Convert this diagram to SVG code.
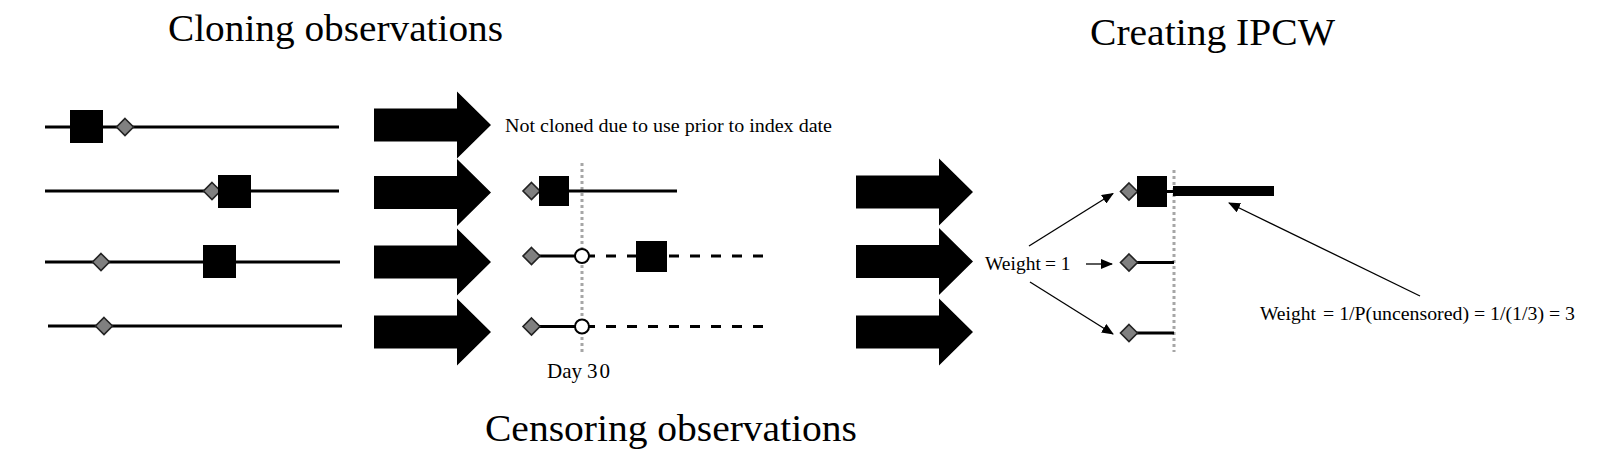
<svg xmlns="http://www.w3.org/2000/svg" width="1600" height="474" viewBox="0 0 1600 474">
<style>
.title{font-family:"Liberation Serif","Times New Roman",serif;font-size:38px;fill:#000}
.lbl{font-family:"Liberation Serif","Times New Roman",serif;font-size:19.5px;fill:#000}
.tl{stroke:#000;stroke-width:3;fill:none}
.dash{stroke:#000;stroke-width:3;fill:none;stroke-dasharray:10 11}
.dot{stroke:#a6a6a6;stroke-width:3;fill:none;stroke-dasharray:3 3}
.sq{fill:#000}
.dia{fill:#808080;stroke:#222;stroke-width:1.6}
.circ{fill:#fff;stroke:#000;stroke-width:2}
.big{fill:#000}
.conn{stroke:#000;stroke-width:1.3;fill:none}
</style>
<defs>
<path id="bigarrow" d="M0,-16.5 H83 V-33.5 L117,0 L83,33.5 V16.5 H0 Z"/>
<path id="diam" d="M0,-8.5 L8.5,0 L0,8.5 L-8.5,0 Z"/>
<marker id="ah" markerUnits="userSpaceOnUse" markerWidth="12" markerHeight="10" refX="11" refY="5" orient="auto">
<path d="M0,0 L12,5 L0,10 Z" fill="#000"/>
</marker>
</defs>
<rect width="1600" height="474" fill="#fff"/>

<g id="titles">
<text class="title" x="168" y="41" textLength="335" lengthAdjust="spacingAndGlyphs">Cloning observations</text>
<text class="title" x="1090" y="45" textLength="245" lengthAdjust="spacingAndGlyphs">Creating IPCW</text>
<text class="title" x="485" y="441" textLength="372" lengthAdjust="spacingAndGlyphs">Censoring observations</text>
</g>

<g id="cloning">
<g id="clone-row1">
<line class="tl" x1="45" y1="127" x2="339" y2="127"/>
<rect class="sq" x="70" y="110" width="33" height="33"/>
<use href="#diam" class="dia" x="125" y="127"/>
</g>
<g id="clone-row2">
<line class="tl" x1="45" y1="191" x2="339" y2="191"/>
<use href="#diam" class="dia" x="212" y="191"/>
<rect class="sq" x="218" y="175" width="33" height="33"/>
</g>
<g id="clone-row3">
<line class="tl" x1="45" y1="262" x2="340" y2="262"/>
<use href="#diam" class="dia" x="101" y="262"/>
<rect class="sq" x="203" y="245" width="33" height="33"/>
</g>
<g id="clone-row4">
<line class="tl" x1="48" y1="326" x2="342" y2="326"/>
<use href="#diam" class="dia" x="104" y="326"/>
</g>
</g>

<g id="big-arrows-left">
<use href="#bigarrow" class="big" x="374" y="125"/>
<use href="#bigarrow" class="big" x="374" y="192.5"/>
<use href="#bigarrow" class="big" x="374" y="262"/>
<use href="#bigarrow" class="big" x="374" y="332"/>
</g>

<g id="censoring">
<text class="lbl" x="505" y="132" textLength="327" lengthAdjust="spacingAndGlyphs">Not cloned due to use prior to index date</text>
<line class="dot" x1="582" y1="163" x2="582" y2="352"/>
<g id="cens-row2">
<line class="tl" x1="532" y1="191" x2="677" y2="191"/>
<use href="#diam" class="dia" x="531.5" y="191"/>
<rect class="sq" x="539" y="176" width="30" height="30"/>
</g>
<g id="cens-row3">
<line class="tl" x1="532" y1="256" x2="576" y2="256"/>
<line class="dash" x1="763" y1="256" x2="589" y2="256"/>
<use href="#diam" class="dia" x="531.5" y="256"/>
<circle class="circ" cx="582" cy="256" r="7"/>
<rect class="sq" x="636" y="241" width="31" height="31"/>
</g>
<g id="cens-row4">
<line class="tl" x1="532" y1="326.5" x2="576" y2="326.5"/>
<line class="dash" x1="763" y1="326.5" x2="589" y2="326.5"/>
<use href="#diam" class="dia" x="531.5" y="326.5"/>
<circle class="circ" cx="582" cy="326.5" r="7"/>
</g>
<text class="lbl" x="547" y="378" style="font-size:21px">Day <tspan x="587" style="letter-spacing:2px">30</tspan></text>
</g>

<g id="big-arrows-mid">
<use href="#bigarrow" class="big" x="856" y="192"/>
<use href="#bigarrow" class="big" x="856" y="261.5"/>
<use href="#bigarrow" class="big" x="856" y="332"/>
</g>

<g id="ipcw">
<line class="dot" x1="1174" y1="170" x2="1174" y2="352"/>
<g id="ipcw-row1">
<line class="tl" x1="1160" y1="191.5" x2="1175" y2="191.5"/>
<use href="#diam" class="dia" x="1129" y="191.5"/>
<rect class="sq" x="1137" y="176" width="30" height="31"/>
<rect class="sq" x="1173" y="186" width="101" height="10"/>
</g>
<g id="ipcw-row2">
<line class="tl" x1="1135" y1="262.5" x2="1174" y2="262.5"/>
<use href="#diam" class="dia" x="1129" y="262.5"/>
</g>
<g id="ipcw-row3">
<line class="tl" x1="1135" y1="333" x2="1174" y2="333"/>
<use href="#diam" class="dia" x="1129" y="333"/>
</g>
<text class="lbl" x="985" y="270">Weight <tspan x="1045">= 1</tspan></text>
<text class="lbl" x="1260" y="320">Weight <tspan x="1323" textLength="252" lengthAdjust="spacingAndGlyphs">= 1/P(uncensored) = 1/(1/3) = 3</tspan></text>
</g>

<g id="connectors">
<line class="conn" x1="1029" y1="246" x2="1113" y2="193.5" marker-end="url(#ah)"/>
<line class="conn" x1="1086" y1="264" x2="1112" y2="264" marker-end="url(#ah)"/>
<line class="conn" x1="1030" y1="282" x2="1113" y2="334" marker-end="url(#ah)"/>
<line class="conn" x1="1420" y1="296" x2="1229" y2="203" marker-end="url(#ah)"/>
</g>
</svg>
